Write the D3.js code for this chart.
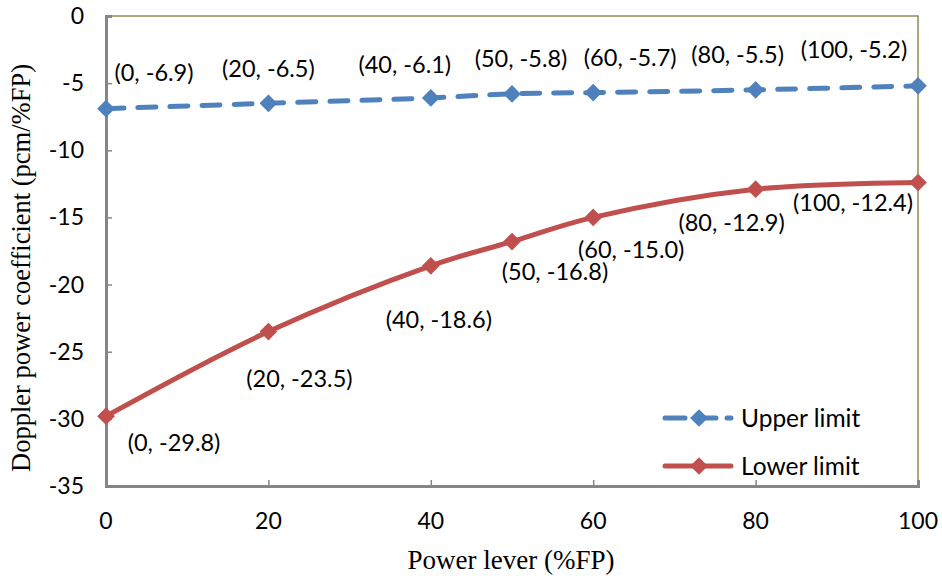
<!DOCTYPE html>
<html>
<head>
<meta charset="utf-8">
<script src="https://cdn.jsdelivr.net/npm/d3@7"></script>
<style>
  body { margin: 0; background: #fff; }
  svg { display: block; }
</style>
</head>
<body>
<svg width="942" height="581"></svg>
<script>
// power levels (%FP)
var power = [0, 20, 40, 50, 60, 80, 100];
var upperLimit = [-6.9, -6.5, -6.1, -5.8, -5.7, -5.5, -5.2];
var lowerLimit = [-29.8, -23.5, -18.6, -16.8, -15.0, -12.9, -12.4];
var xTicks = [0, 20, 40, 60, 80, 100];
var yTicks = [0, -5, -10, -15, -20, -25, -30, -35];

// label nudges (px) from each point, as placed in the original
var upperLabelShift = [[48, -36], [0, -35], [-26, -33], [9, -35], [37, -35], [-18, -35], [-64, -36]];
var lowerLabelShift = [[68, 27], [31, 47], [8, 54], [43, 30], [38, 32], [-24, 34], [-65, 20]];

var svg = d3.select("svg");
var margin = {left: 106, top: 16, right: 24, bottom: 95},
	width = 942 - margin.left - margin.right,
	height = 581 - margin.top - margin.bottom;

var x = d3.scaleLinear().domain([0, 100]).range([margin.left, margin.left + width]);
var y = d3.scaleLinear().domain([-35, 0]).range([margin.top + height, margin.top]);

var tickFont = "Lato, 'Open Sans', sans-serif";
var titleFont = "'Liberation Serif', 'Times New Roman', serif";
var blue = "#4f81bd", red = "#c0504d";

// plot frame: olive on top/right
svg.append("path")
	.attr("d", "M" + x(0) + "," + y(0) + "H" + x(100) + "V" + y(-35))
	.attr("fill", "none")
	.attr("stroke", "#948a54")
	.attr("stroke-width", 1.5);

// axes
var yAxis = svg.append("g")
	.attr("transform", "translate(" + x(0) + ",0)")
	.call(d3.axisRight(y).tickValues(yTicks).tickSize(6).tickFormat(""));
var xAxis = svg.append("g")
	.attr("transform", "translate(0," + y(-35) + ")")
	.call(d3.axisTop(x).tickValues(xTicks).tickSize(6).tickFormat(""));
[xAxis, yAxis].forEach(function(a) {
	a.select(".domain").attr("stroke", "#868686").attr("stroke-width", 3);
	a.selectAll(".tick line").attr("stroke", "#868686").attr("stroke-width", 1.5);
});

svg.selectAll(".ylab")
	.data(yTicks)
	.enter().append("text")
	.attr("x", x(0) - 22)
	.attr("y", function(d) { return y(d); })
	.attr("dy", "0.35em")
	.attr("text-anchor", "end")
	.attr("font-family", tickFont)
	.attr("font-size", 23)
	.text(function(d) { return d; });

svg.selectAll(".xlab")
	.data(xTicks)
	.enter().append("text")
	.attr("x", function(d) { return x(d); })
	.attr("y", y(-35) + 35)
	.attr("dy", "0.35em")
	.attr("text-anchor", "middle")
	.attr("font-family", tickFont)
	.attr("font-size", 23)
	.text(function(d) { return d; });

svg.append("text")
	.attr("x", x(50) - 1)
	.attr("y", 569)
	.attr("text-anchor", "middle")
	.attr("font-family", titleFont)
	.attr("font-size", 27)
	.text("Power lever (%FP)");

svg.append("text")
	.attr("transform", "translate(30," + (y(-17.5) + 17) + ") rotate(-90)")
	.attr("text-anchor", "middle")
	.attr("font-family", titleFont)
	.attr("font-size", 26.5)
	.text("Doppler power coefficient (pcm/%FP)");

var line = d3.line()
	.x(function(d, i) { return x(power[i]); })
	.y(function(d) { return y(d); })
	.curve(d3.curveCatmullRom.alpha(0.5));

var diamond = d3.symbol().type(d3.symbolDiamond2).size(200);

function drawSeries(vals, color, dash, shifts) {
	svg.append("path")
		.datum(vals)
		.attr("d", line)
		.attr("fill", "none")
		.attr("stroke", color)
		.attr("stroke-width", 5)
		.attr("stroke-linecap", dash ? "round" : "butt")
		.attr("stroke-dasharray", dash);
	svg.selectAll(null)
		.data(vals)
		.enter().append("path")
		.attr("d", diamond)
		.attr("transform", function(d, i) { return "translate(" + x(power[i]) + "," + y(d) + ")"; })
		.attr("fill", color);
	svg.selectAll(null)
		.data(vals)
		.enter().append("text")
		.attr("x", function(d, i) { return x(power[i]) + shifts[i][0]; })
		.attr("y", function(d, i) { return y(d) + shifts[i][1]; })
		.attr("dy", "0.35em")
		.attr("text-anchor", "middle")
		.attr("font-family", tickFont)
		.attr("font-size", 23.5)
		.text(function(d, i) { return "(" + power[i] + ", " + d.toFixed(1) + ")"; });
}

drawSeries(upperLimit, blue, "18,14", upperLabelShift);
drawSeries(lowerLimit, red, null, lowerLabelShift);

// legend
var legend = [
	{name: "Upper limit", color: blue, dash: "20,11", y: 418},
	{name: "Lower limit", color: red, dash: null, y: 466}
];
legend.forEach(function(l) {
	svg.append("line")
		.attr("x1", 665).attr("x2", 731)
		.attr("y1", l.y).attr("y2", l.y)
		.attr("stroke", l.color)
		.attr("stroke-width", 5)
		.attr("stroke-linecap", "round")
		.attr("stroke-dasharray", l.dash);
	svg.append("path")
		.attr("d", diamond)
		.attr("transform", "translate(" + 699 + "," + l.y + ")")
		.attr("fill", l.color);
	svg.append("text")
		.attr("x", 741)
		.attr("y", l.y)
		.attr("dy", "0.35em")
		.attr("font-family", tickFont)
		.attr("font-size", 24.5)
		.text(l.name);
});
</script>
</body>
</html>
